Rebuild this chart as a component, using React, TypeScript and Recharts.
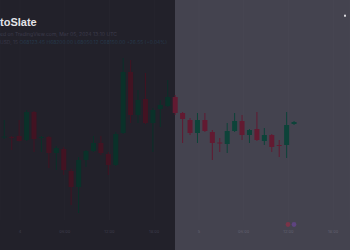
import React from "react";
import { ComposedChart, Bar, XAxis, YAxis, CartesianGrid } from "recharts";

// ── Data (price units) ───────────────────────────────────────────────────────

const opens = [
  113, 113, 114, 110, 138, 112.5, 113, 97, 101, 79,
  63, 90, 99, 107, 96, 85, 117, 178, 135, 151,
  127, 141, 144, 153, 137, 130, 117, 130, 118, 107.5,
  106, 119, 129, 115, 121, 109, 115, 105, 105, 126,
];
const closes = [
  113.5, 112.5, 109, 138, 111, 113, 97, 102, 80, 63,
  90, 99, 107, 97, 85, 116, 178, 135, 150, 127,
  140, 145, 153, 137, 131, 117, 130, 119, 107, 107,
  119, 129, 115, 120, 110, 115, 103, 104.5, 125, 128,
];
const highs = [
  130, 114, 130, 140, 139, 114, 114, 104, 103, 81,
  93, 100, 114, 114, 98, 118, 192, 190, 160, 177,
  142, 150, 170, 155, 138, 132, 137, 137, 120, 112,
  127, 137, 135, 121, 138, 122, 116, 110, 138, 129,
];
const lows = [
  111, 100, 108.5, 109, 98, 98, 82, 80, 75, 45,
  37, 83, 98, 95, 75, 84, 116, 127, 127, 126,
  98, 123, 143, 135, 107, 115, 107, 118, 90, 98,
  97, 118, 110, 107, 109, 105, 98, 93, 92, 125,
];

const tickPositions = [2.09, 8.11, 14.13, 20.15, 26.17, 32.19, 38.21, 44.23];
const tickLabels = ["4", "06:00", "12:00", "18:00", "5", "06:00", "12:00", "18:00"];

// first candle index that sits on the lighter right-hand panel
const SPLIT_INDEX = 23;

// ── Colors ───────────────────────────────────────────────────────────────────

const BG_LEFT = "#22212a";
const BG_RIGHT = "#44434f";
const UP_LEFT = "#0a3129";
const DOWN_LEFT = "#421322";
const UP_RIGHT = "#0d4339";
const DOWN_RIGHT = "#621a31";

interface Candle {
  i: number;
  open: number;
  close: number;
  high: number;
  low: number;
}

const data: Candle[] = opens.map((o, i) => ({
  i,
  open: o,
  close: closes[i],
  high: highs[i],
  low: lows[i],
}));

// ── Candle shape ─────────────────────────────────────────────────────────────

function CandleShape(props: any) {
  const { x, y, width, height, payload } = props;
  if (x == null || y == null || !payload) return null;
  const top = Math.min(y, y + height);
  const h = Math.abs(height);
  const range = payload.high - payload.low || 1;
  const k = h / range;
  const up = payload.close >= payload.open;
  const left = payload.i < SPLIT_INDEX;
  const color = up ? (left ? UP_LEFT : UP_RIGHT) : left ? DOWN_LEFT : DOWN_RIGHT;
  const bodyTop = top + (payload.high - Math.max(payload.open, payload.close)) * k;
  const bodyBottom = top + (payload.high - Math.min(payload.open, payload.close)) * k;
  const cx = x + width / 2;
  return (
    <g>
      <line x1={cx} x2={cx} y1={top} y2={top + h} stroke={color} strokeWidth={1} />
      <rect
        x={x}
        y={bodyTop}
        width={width}
        height={Math.max(bodyBottom - bodyTop, 1)}
        fill={color}
      />
    </g>
  );
}

function TimeTick(props: any) {
  const { x, index } = props;
  const onLeft = x < 175;
  return (
    <text
      x={x}
      y={233}
      textAnchor="middle"
      fontSize={4}
      fontFamily="Inter, sans-serif"
      fill={onLeft ? "#3e3d4c" : "#62616f"}
    >
      {tickLabels[index]}
    </text>
  );
}

// ── Main ─────────────────────────────────────────────────────────────────────

export default function App() {
  return (
    <div
      style={{
        position: "fixed",
        top: 0,
        left: 0,
        width: 350,
        height: 250,
        overflow: "hidden",
        background: `linear-gradient(to right, ${BG_LEFT} 0px, ${BG_LEFT} 175px, ${BG_RIGHT} 175px, ${BG_RIGHT} 350px)`,
      }}
    >
      <ComposedChart
        width={350}
        height={250}
        data={data}
        margin={{ top: 0, right: 0, left: 0, bottom: 0 }}
      >
        <CartesianGrid
          horizontal={false}
          stroke="rgba(255,255,255,0.02)"
        />
        <XAxis
          type="number"
          dataKey="i"
          domain={[-0.606, 46.5]}
          ticks={tickPositions}
          height={30}
          axisLine={false}
          tickLine={false}
          interval={0}
          tick={<TimeTick />}
          allowDataOverflow
        />
        <YAxis hide domain={[30, 250]} allowDataOverflow />
        <Bar
          dataKey={(d: Candle) => [d.low, d.high]}
          barSize={5}
          shape={<CandleShape />}
          isAnimationActive={false}
        />
      </ComposedChart>

      <svg
        width={350}
        height={250}
        style={{ position: "absolute", top: 0, left: 0, pointerEvents: "none" }}
      >
        <text
          x={0}
          y={25.5}
          fontSize={11}
          fontWeight={700}
          fontFamily="'Liberation Sans', Arial, sans-serif"
          fill="#e4e4e8"
        >
          toSlate
        </text>
        <text
          x={0}
          y={35.5}
          fontSize={4.5}
          fontFamily="Inter, sans-serif"
          fill="#3c3b4a"
          textLength={117}
          lengthAdjust="spacingAndGlyphs"
        >
          ed on TradingView.com, Mar 05, 2024 13:10 UTC
        </text>
        <text
          x={0}
          y={43.5}
          fontSize={4.5}
          fontFamily="Inter, sans-serif"
          textLength={167}
          lengthAdjust="spacingAndGlyphs"
        >
          <tspan fill="#383748">USD, 15 </tspan>
          <tspan fill="#26394a">O68123.45 </tspan>
          <tspan fill="#26394a">H68200.00 </tspan>
          <tspan fill="#26394a">L68050.12 </tspan>
          <tspan fill="#26394a">C68150.00 </tspan>
          <tspan fill="#26394a">+26.55 (+0.04%)</tspan>
        </text>
        <rect x={344} y={14.7} width={2} height={2} fill="#dcdce0" />
        <circle cx={288} cy={224.5} r={2.4} fill="#7a3448" />
        <circle cx={294} cy={224.5} r={2.4} fill="#5e4480" />
      </svg>
    </div>
  );
}
